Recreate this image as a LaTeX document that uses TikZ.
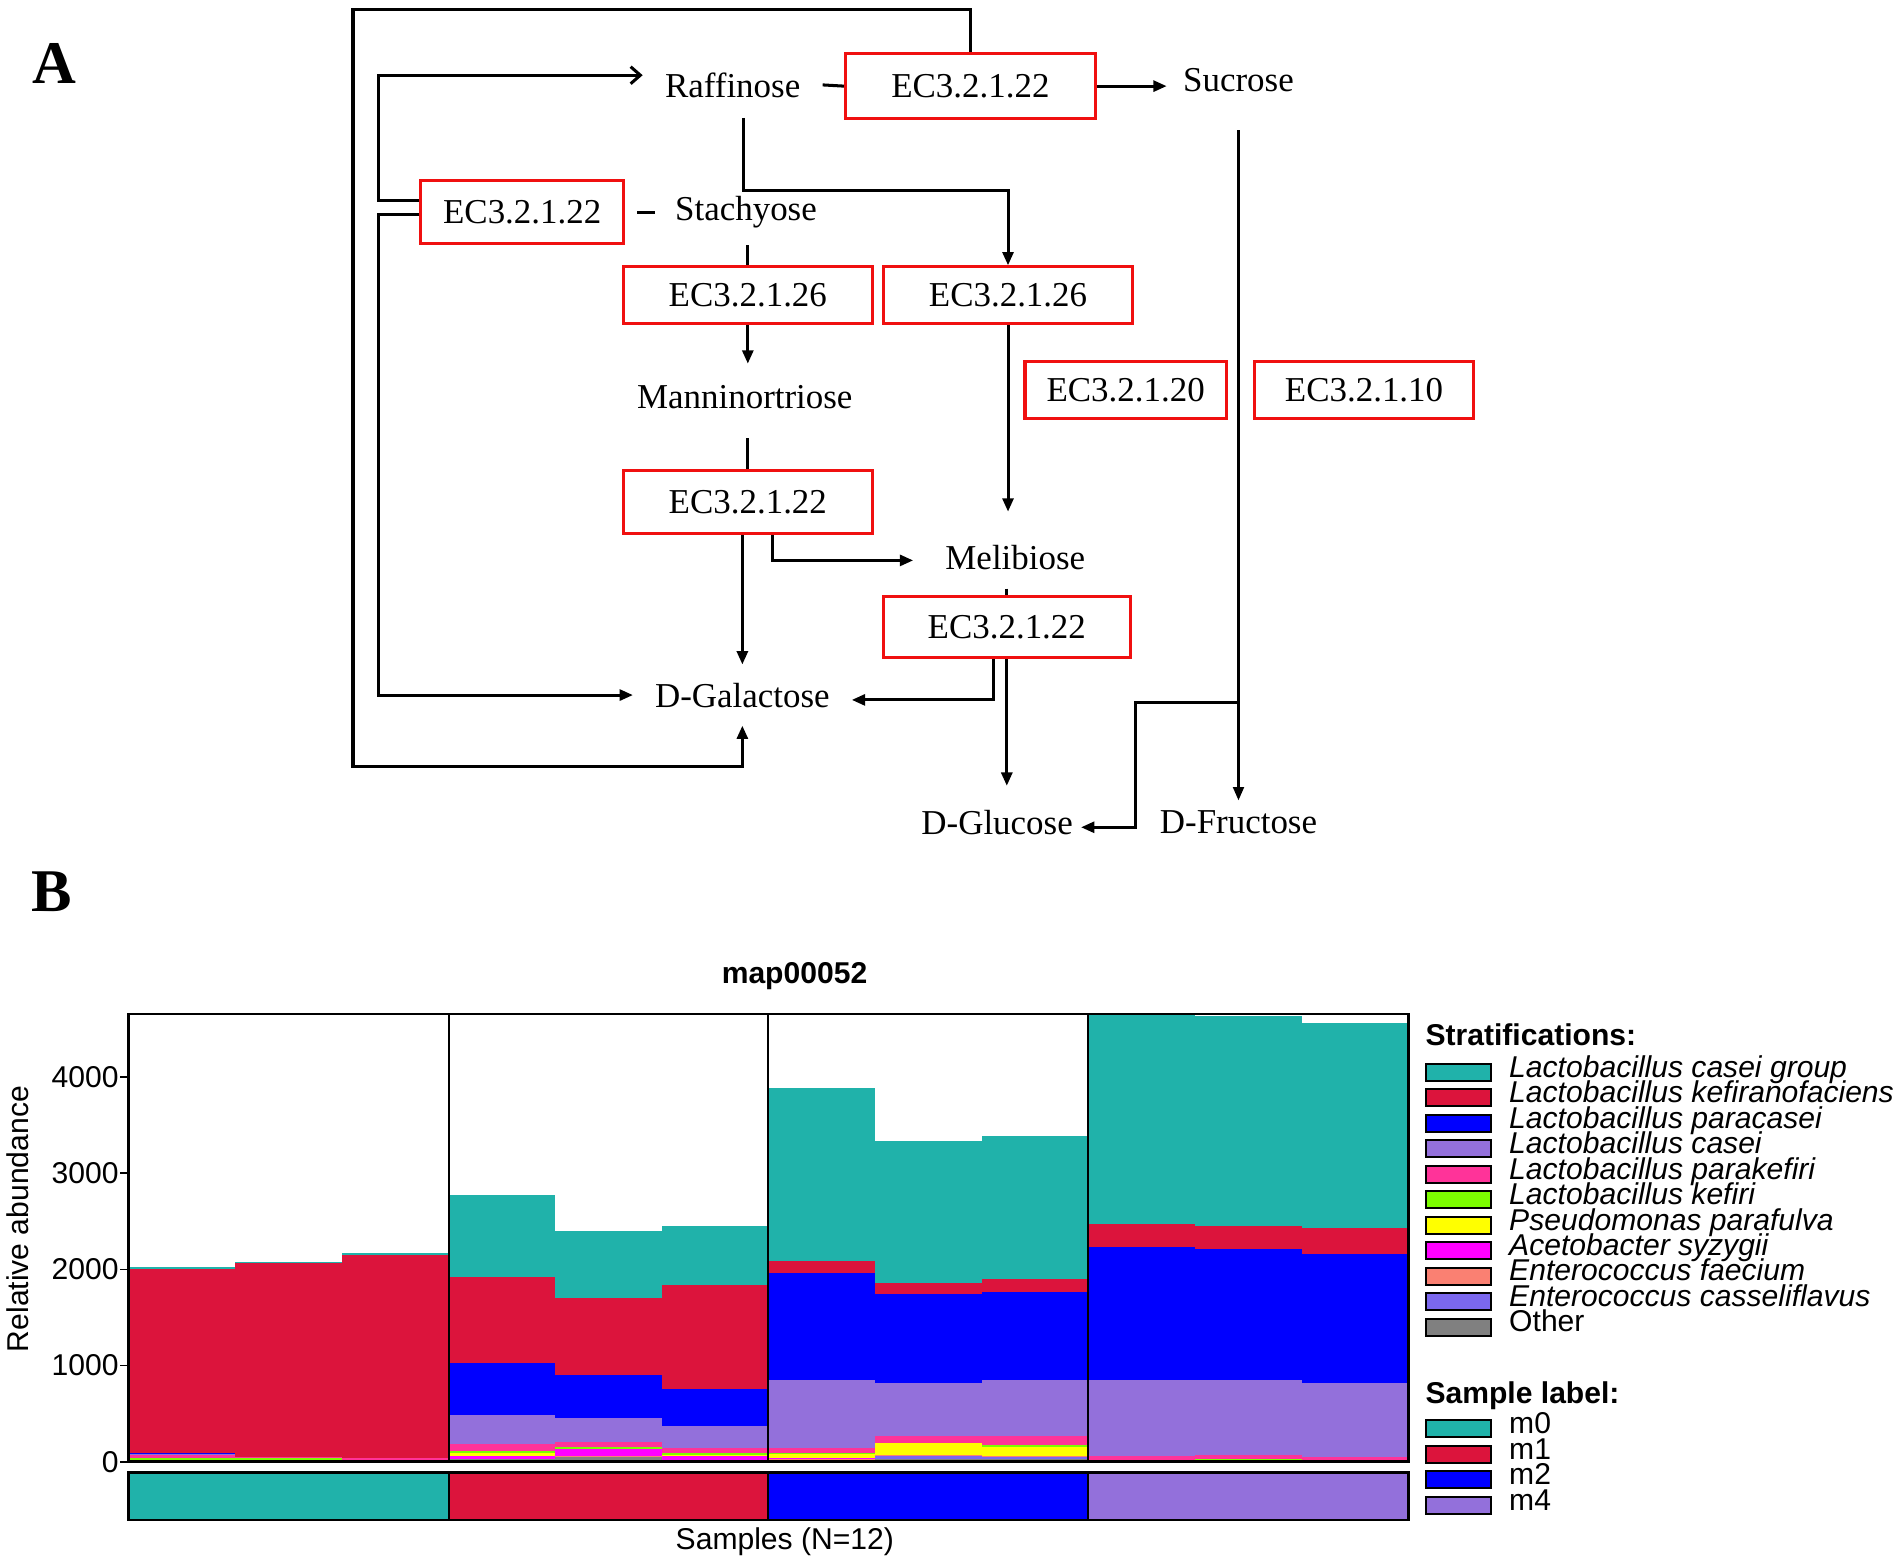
\documentclass[tikz,border=0pt]{standalone}
\usepackage{fontspec}
\setmainfont{Liberation Serif}
\setsansfont{Liberation Sans}
\usetikzlibrary{arrows.meta}
\definecolor{strat1}{HTML}{20B2AA}
\definecolor{strat2}{HTML}{DC143C}
\definecolor{strat3}{HTML}{0000FF}
\definecolor{strat4}{HTML}{9370DB}
\definecolor{strat5}{HTML}{FF3399}
\definecolor{strat6}{HTML}{7CFC00}
\definecolor{strat7}{HTML}{FFFF00}
\definecolor{strat8}{HTML}{FF00FF}
\definecolor{strat9}{HTML}{FA8072}
\definecolor{strat10}{HTML}{7B68EE}
\definecolor{strat11}{HTML}{808080}
\definecolor{ecred}{HTML}{F01010}
\newcommand\mystack[2]{%
  \foreach \v [count=\k] in {#2} {%
    \fill[fill=strat\k] ({106+#1*87.917},1205) rectangle ({106+(#1+1)*87.917},{1205-0.07925*\v});
  }%
}
\begin{document}
\begin{tikzpicture}[x=1pt,y=-1pt,
  chem/.style={inner sep=0pt, font=\fontsize{28.8}{30}\selectfont},
  ecbox/.style={draw=ecred, line width=2.5pt, inner sep=0pt, font=\fontsize{28.8}{30}\selectfont},
  conn/.style={line width=2.5pt},
  tip/.style={-{Triangle[length=11pt,width=9pt]}},
  sans/.style={inner sep=0pt, font=\sffamily\fontsize{24.8}{26}\selectfont},
  swatch/.style={draw=black, line width=1.6pt, minimum width=54pt, minimum height=14pt, inner sep=0pt},
  panel/.style={inner sep=0pt, font=\fontsize{50}{50}\selectfont\bfseries}]
\fill[white] (0,0) rectangle (1568,1290);
\useasboundingbox (0,0) rectangle (1568,1290);

% ---------- Panel A ----------
\node[panel] (pA) at (45,52) {A};

\node[chem, minimum width=148pt, minimum height=54pt] (raff) at (604,70) {Raffinose};
\node[chem, minimum width=118pt, minimum height=82pt] (suc) at (1021,66) {Sucrose};
\node[chem, minimum width=150pt, minimum height=54pt] (stach) at (615,175) {Stachyose};
\node[chem, minimum width=200pt, minimum height=54pt] (mann) at (614,327) {Manninortriose};
\node[chem, minimum width=168pt, minimum height=50pt] (meli) at (837,460) {Melibiose};
\node[chem, minimum width=180pt, minimum height=50pt] (gal) at (612,573) {D-Galactose};
\node[chem, minimum width=138pt, minimum height=60pt] (glu) at (822,678) {D-Glucose};
\node[chem, minimum width=140pt, minimum height=36pt] (fru) at (1021,678) {D-Fructose};

\node[ecbox, minimum width=206pt, minimum height=54pt] (e1) at (800,71) {EC3.2.1.22};
\node[ecbox, minimum width=167pt, minimum height=52pt] (e2) at (430.5,175) {EC3.2.1.22};
\node[ecbox, minimum width=205pt, minimum height=47pt] (e3) at (616.5,243.5) {EC3.2.1.26};
\node[ecbox, minimum width=206pt, minimum height=47pt] (e4) at (831,243.5) {EC3.2.1.26};
\node[ecbox, minimum width=166pt, minimum height=47pt] (e5) at (928,321.5) {EC3.2.1.20};
\node[ecbox, minimum width=181pt, minimum height=47pt] (e6) at (1124.5,321.5) {EC3.2.1.10};
\node[ecbox, minimum width=205pt, minimum height=52pt] (e7) at (616.5,414) {EC3.2.1.22};
\node[ecbox, minimum width=204pt, minimum height=50pt] (e8) at (830,517) {EC3.2.1.22};

\coordinate (fTL) at (291,8);
\coordinate (fBL) at (291,632);
\coordinate (br) at (1021,579);
\coordinate (bk) at (936,579);

% outer frame
\draw[conn,tip] (e1.north) |- (fTL) -- (fBL) -| (gal.south);
% raffinose - EC - sucrose
\draw[conn] (raff.east) -- (e1.west);
\draw[conn,tip] (e1.east) -- (e1.east -| suc.west);
% raffinose down to EC3.2.1.26 (right)
\draw[conn,tip] ([xshift=9pt]raff.south) -- ++(0,60) -| (e4.north);
% stachyose dash
\draw[conn,shorten <=10pt] (e2.east) -- (stach.west);
% left loops
\draw[conn,-{Straight Barb[length=8pt,width=14pt]}] ([yshift=10pt]e2.west) -- ++(-34,0) |- ([yshift=8pt]raff.west);
\draw[conn,tip] ([yshift=-2pt]e2.west) -- ++(-34,0) |- (gal.west);
% stachyose -> manninortriose
\draw[conn] (e3.north |- stach.south) -- (e3.north);
\draw[conn,tip] (e3.south) -- (e3.south |- mann.north);
\draw[conn,shorten <=7pt] (e7.north |- mann.south) -- (e7.north);
% EC (middle) -> galactose, melibiose
\draw[conn,tip] (gal.north |- e7.south) -- (gal.north);
\draw[conn,tip] ([xshift=20pt]e7.south) |- ([yshift=-2pt]meli.west);
% EC3.2.1.26 right -> melibiose
\draw[conn,tip,shorten >=13pt] (e4.south) -- (e4.south |- meli.north);
\draw[conn] (e8.north |- meli.south) -- (e8.north);
% EC lower -> galactose, glucose
\draw[conn,tip] ([xshift=-11pt]e8.south) |- ([yshift=-4pt]gal.east);
\draw[conn,tip] (e8.south) -- (e8.south |- glu.north);
% sucrose -> fructose, branch to glucose
\draw[line width=1.8pt,tip] (suc.south) -- (fru.north);
\draw[conn,tip] (br) -- (bk) |- ([yshift=-4pt]glu.east);

% ---------- Panel B ----------
\node[panel] (pB) at (43,735) {B};
\node[sans, font=\sffamily\bfseries\fontsize{24.8}{26}\selectfont] (title) at (655,805) {map00052};

% cumulative tops: casei group, kefiranofaciens, paracasei, casei, parakefiri, kefiri,
% Pseudomonas, Acetobacter, E. faecium, E. casseliflavus, Other
\begin{scope}
\clip (106,836) rectangle (1161,1205);
\mystack{0}{2030,2000,94,82,68,36,12,10,6,4,2}
\mystack{1}{2078,2062,52,50,45,40,8,6,4,3,2}
\mystack{2}{2168,2155,42,41,40,22,20,19,10,8,5}
\mystack{3}{2770,1920,1031,486,184,114,95,59,28,26,24}
\mystack{4}{2400,1702,902,451,205,156,135,132,59,50,45}
\mystack{5}{2450,1840,753,371,146,87,65,59,17,14,10}
\mystack{6}{3890,2084,1960,850,146,87,75,35,30,20,15}
\mystack{7}{3340,1863,1740,822,271,198,195,69,65,59,24}
\mystack{8}{3390,1903,1762,846,271,174,156,59,58,45,24}
\mystack{9}{4700,2476,2233,850,59,17,15,13,11,8,5}
\mystack{10}{4634,2454,2211,850,69,24,20,17,14,10,6}
\mystack{11}{4559,2432,2159,815,45,17,14,12,10,7,4}
\end{scope}
\draw[line width=2pt] (106,836) rectangle (1161,1205);
\foreach \x in {370,633,897} \draw[line width=2pt] (\x,836) -- (\x,1205);

% sample label bar
\fill[strat1] (106,1214) rectangle (370,1253);
\fill[strat2] (370,1214) rectangle (633,1253);
\fill[strat3] (633,1214) rectangle (897,1253);
\fill[strat4] (897,1214) rectangle (1161,1253);
\draw[line width=2pt] (106,1214) rectangle (1161,1253);
\foreach \x in {370,633,897} \draw[line width=2pt] (\x,1214) -- (\x,1253);

% y axis
\foreach \v in {0,1000,2000,3000,4000} {
  \draw[line width=1.5pt] (99,{1205-0.07925*\v}) -- (106,{1205-0.07925*\v});
  \node[sans, anchor=east] (tk\v) at (98,{1205-0.07925*\v}) {\v};
}
\node[sans, rotate=90] (ylab) at (15,1005) {Relative abundance};
\node[sans] (xlab) at (647,1271) {Samples (N=12)};

% legend
\node[sans, font=\sffamily\bfseries\fontsize{24.8}{26}\selectfont, anchor=base west] (lt1) at (1175,862) {Stratifications:};
\foreach \t [count=\i] in {Lactobacillus casei group, Lactobacillus kefiranofaciens, Lactobacillus paracasei, Lactobacillus casei, Lactobacillus parakefiri, Lactobacillus kefiri, Pseudomonas parafulva, Acetobacter syzygii, Enterococcus faecium, Enterococcus casseliflavus} {
  \node[swatch, fill=strat\i] (sw\i) at (1202.5,{884+21*(\i-1)}) {};
  \node[sans, font=\sffamily\itshape\fontsize{24.8}{26}\selectfont, anchor=base west] (lg\i) at (1244,{888+21*(\i-1)}) {\t};
}
\node[swatch, fill=strat11] (sw11) at (1202.5,1094) {};
\node[sans, anchor=base west] (lg11) at (1244,1098) {Other};

\node[sans, font=\sffamily\bfseries\fontsize{24.8}{26}\selectfont, anchor=base west] (lt2) at (1175,1157) {Sample label:};
\foreach \t [count=\i] in {m0,m1,m2,m4} {
  \node[swatch, fill=strat\i] (ms\i) at (1202.5,{1178+21*(\i-1)}) {};
  \node[sans, anchor=base west] (ml\i) at (1244,{1182+21*(\i-1)}) {\t};
}
\end{tikzpicture}
\end{document}
